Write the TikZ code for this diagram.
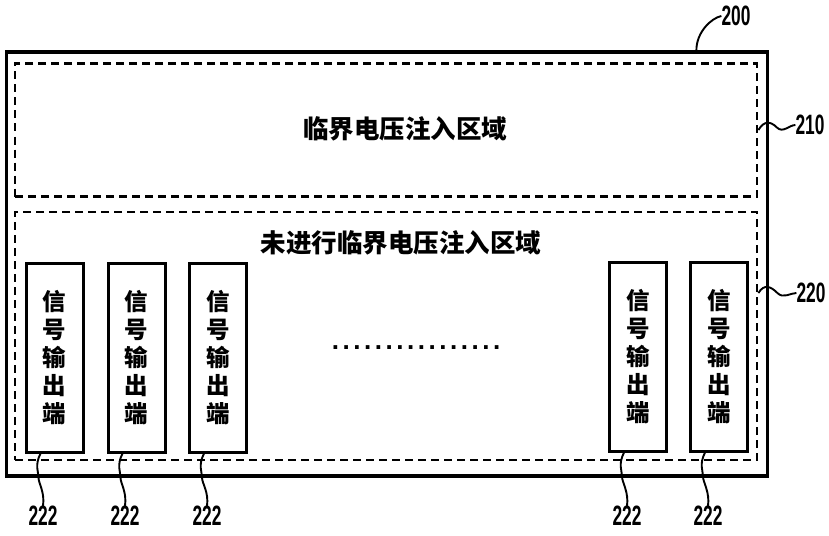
\documentclass[tikz,border=0pt]{standalone}
\usepackage{fontspec}
\setmainfont{Liberation Sans}
\newfontfamily\cjk{Noto Sans CJK SC}
\usetikzlibrary{calc}
\tikzset{
  box/.style={draw, line width=3pt, minimum width=57pt, minimum height=189pt, inner sep=0pt,
    align=center, font=\cjk\bfseries\fontsize{23.5}{28}\selectfont},
  region/.style={draw, line width=2.8pt, dash pattern=on 8pt off 5pt, inner sep=0pt},
  outerbox/.style={draw, line width=3.8pt, minimum width=761pt, minimum height=424pt, inner sep=0pt},
  num/.style={font=\bfseries\fontsize{28}{30}\selectfont, xscale=0.62, transform shape, inner sep=0pt},
  lead/.style={line width=1.9pt},
  title/.style={font=\cjk\bfseries\fontsize{25.5}{28}\selectfont, inner sep=0pt}
}
\begin{document}
\begin{tikzpicture}[x=1pt,y=-1pt]
\useasboundingbox (0,0) rectangle (829,535);
\node[outerbox] (outer) at (387,264) {};
\node[region, minimum width=742pt, minimum height=133pt] (r210) at (386,130) {};
\node[region, minimum width=742pt, minimum height=248pt] (r220) at (386,336) {};
\node[title] (t210) at (405,129) {临界电压注入区域};
\node[title] (t220) at (401,243) {未进行临界电压注入区域};
\node[box] (b1) at (54.5,357.5) {信\\号\\输\\出\\端};
\node[box] (b2) at (136.5,357.5) {信\\号\\输\\出\\端};
\node[box] (b3) at (218,357.5) {信\\号\\输\\出\\端};
\node[box] (b4) at (638,356.5) {信\\号\\输\\出\\端};
\node[box] (b5) at (719,356.5) {信\\号\\输\\出\\端};
\node[font=\bfseries\fontsize{26}{28}\selectfont, inner sep=0pt] (dots) at (416,348)
  {\makebox[172pt]{\xleaders\hbox to 10.75pt{\hss.\hss}\hfill}};
% labels
\node[num] (l200) at (736,16) {200};
\node[num] (l210) at (810,125) {210};
\node[num] (l220) at (811,293) {220};
\node[num] (l1) at (43,516) {222};
\node[num] (l2) at (125,516) {222};
\node[num] (l3) at (207,516) {222};
\node[num] (l4) at (627,516) {222};
\node[num] (l5) at (708,516) {222};
% leaders
\draw[lead] ([xshift=-73pt]outer.north east) .. controls +(0,-18) and +(-10,2) .. (l200.west);
\draw[lead] (r210.east) .. controls +(6,-10) and +(-6,-6) .. ($(r210.east)!0.5!(l210.west)$)
  .. controls +(6,6) and +(-6,0) .. (l210.west);
\coordinate (s220) at ([yshift=43pt]r220.east);
\draw[lead] (s220) .. controls +(6,-10) and +(-6,-6) .. ($(s220)!0.5!(l220.west)$)
  .. controls +(6,6) and +(-6,0) .. (l220.west);
\foreach \b/\l in {b1/l1,b2/l2,b3/l3,b4/l4,b5/l5}{
  \draw[lead] ([xshift=-14pt]\b.south) .. controls +(-6,12) and +(0,-6) .. ++(-2,24)
    .. controls +(0,6) and +(2,-14) .. (\l.north);
}
\end{tikzpicture}
\end{document}
